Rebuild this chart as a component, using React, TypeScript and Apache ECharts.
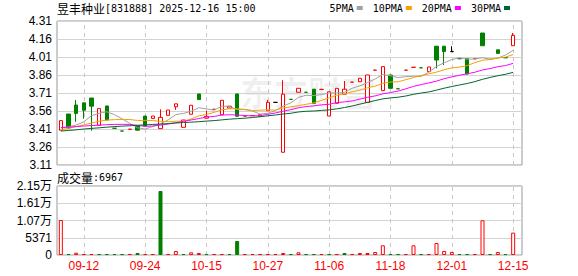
import React, { useEffect, useRef } from 'react';
import * as echarts from 'echarts';

const dates = [
  '09-09', '09-10', '09-11', '09-12', '09-15', '09-16', '09-17', '09-18', '09-19', '09-22',
  '09-23', '09-24', '09-25', '09-26', '09-29', '10-09', '10-10', '10-13', '10-14', '10-15',
  '10-16', '10-17', '10-20', '10-21', '10-22', '10-23', '10-24', '10-27', '10-28', '10-29',
  '10-30', '10-31', '11-03', '11-04', '11-05', '11-06', '11-07', '11-10', '11-11', '11-12',
  '11-13', '11-14', '11-17', '11-18', '11-19', '11-20', '11-21', '11-24', '11-25', '11-26',
  '11-27', '12-01', '12-02', '12-04', '12-05', '12-08', '12-09', '12-11', '12-12', '12-15',
];

const opens = [
  3.40, 3.535, 3.61, 3.628, 3.668, 3.44, 3.602, 3.416, 3.393, 3.408,
  3.435, 3.518, 3.498, 3.413, 3.524, 3.595, 3.424, 3.533, 3.702, 3.50,
  3.574, 3.529, 3.585, 3.702, 3.518, 3.522, 3.516, 3.562, 3.632, 3.216,
  3.657, 3.716, 3.716, 3.742, 3.74, 3.518, 3.624, 3.70, 3.80, 3.804,
  3.632, 3.90, 3.73, 3.86, 3.745, 3.90, 3.924, 3.92, 3.888, 4.10,
  4.10, 4.055, 3.996, 3.996, 3.996, 4.21, 3.99, 4.07, 4.004, 4.104,
];
const closes = [
  3.48, 3.42, 3.54, 3.566, 3.60, 3.58, 3.485, 3.416, 3.393, 3.408,
  3.40, 3.435, 3.518, 3.507, 3.568, 3.62, 3.485, 3.608, 3.655, 3.515,
  3.574, 3.649, 3.60, 3.516, 3.518, 3.522, 3.529, 3.632, 3.632, 3.70,
  3.657, 3.749, 3.716, 3.624, 3.74, 3.72, 3.749, 3.742, 3.80, 3.832,
  3.86, 3.90, 3.93, 3.749, 3.745, 3.90, 3.924, 3.92, 3.927, 3.985,
  4.055, 4.055, 3.996, 3.868, 3.996, 4.104, 3.99, 4.04, 4.004, 4.19,
];
const lows = [
  3.40, 3.41, 3.47, 3.496, 3.396, 3.44, 3.485, 3.416, 3.393, 3.408,
  3.40, 3.435, 3.498, 3.413, 3.524, 3.57, 3.424, 3.533, 3.655, 3.50,
  3.574, 3.529, 3.585, 3.516, 3.518, 3.522, 3.516, 3.562, 3.632, 3.216,
  3.657, 3.716, 3.716, 3.624, 3.74, 3.518, 3.624, 3.70, 3.80, 3.804,
  3.632, 3.90, 3.73, 3.749, 3.745, 3.90, 3.924, 3.92, 3.888, 3.916,
  3.943, 4.055, 3.996, 3.868, 3.996, 4.104, 3.99, 4.04, 4.004, 4.104,
];
const highs = [
  3.48, 3.535, 3.652, 3.628, 3.668, 3.58, 3.602, 3.416, 3.393, 3.408,
  3.435, 3.518, 3.518, 3.574, 3.568, 3.62, 3.485, 3.608, 3.702, 3.563,
  3.574, 3.649, 3.60, 3.702, 3.518, 3.522, 3.529, 3.652, 3.632, 3.816,
  3.657, 3.749, 3.716, 3.742, 3.74, 3.72, 3.749, 3.81, 3.80, 3.832,
  3.86, 3.90, 3.93, 3.86, 3.745, 3.90, 3.924, 3.92, 3.927, 4.10,
  4.10, 4.10, 3.996, 3.996, 3.996, 4.21, 3.99, 4.07, 4.004, 4.21,
];
const volumes = [
  10900, 300, 720, 300, 300, 300, 300, 300, 300, 300,
  620, 300, 300, 19930, 300, 1250, 300, 830, 620, 300,
  300, 300, 300, 4360, 300, 300, 300, 300, 300, 620,
  300, 840, 300, 300, 300, 300, 300, 620, 300, 620,
  620, 930, 3020, 300, 300, 300, 3020, 300, 300, 3740,
  1250, 930, 300, 300, 300, 10800, 300, 930, 300, 6967,
];
const ma5 = [
  3.42, 3.427, 3.443, 3.47, 3.521, 3.541, 3.554, 3.529, 3.495, 3.456,
  3.42, 3.41, 3.431, 3.454, 3.486, 3.53, 3.54, 3.558, 3.587, 3.577,
  3.567, 3.6, 3.599, 3.571, 3.571, 3.56, 3.534, 3.541, 3.564, 3.601,
  3.628, 3.674, 3.691, 3.689, 3.697, 3.71, 3.71, 3.715, 3.75, 3.769,
  3.797, 3.827, 3.864, 3.854, 3.838, 3.846, 3.85, 3.848, 3.884, 3.931,
  3.962, 3.988, 4.004, 3.992, 3.994, 4.004, 3.991, 4.0, 4.027, 4.066,
];
const ma10 = [
  3.405, 3.415, 3.43, 3.445, 3.46, 3.475, 3.484, 3.488, 3.489, 3.489,
  3.481, 3.482, 3.48, 3.474, 3.471, 3.475, 3.475, 3.494, 3.52, 3.531,
  3.549, 3.57, 3.578, 3.579, 3.574, 3.564, 3.567, 3.57, 3.567, 3.586,
  3.594, 3.604, 3.616, 3.627, 3.649, 3.669, 3.692, 3.703, 3.72, 3.733,
  3.753, 3.768, 3.79, 3.802, 3.803, 3.821, 3.839, 3.856, 3.869, 3.884,
  3.904, 3.919, 3.926, 3.938, 3.963, 3.983, 3.99, 4.002, 4.009, 4.03,
];
const ma20 = [
  3.422, 3.426, 3.43, 3.435, 3.438, 3.442, 3.446, 3.448, 3.449, 3.448,
  3.44, 3.432, 3.435, 3.442, 3.452, 3.462, 3.474, 3.485, 3.497, 3.51,
  3.515, 3.526, 3.529, 3.527, 3.522, 3.519, 3.521, 3.532, 3.544, 3.558,
  3.571, 3.587, 3.597, 3.603, 3.611, 3.616, 3.63, 3.636, 3.644, 3.659,
  3.674, 3.686, 3.703, 3.714, 3.726, 3.745, 3.765, 3.78, 3.794, 3.809,
  3.829, 3.844, 3.858, 3.87, 3.883, 3.902, 3.914, 3.929, 3.939, 3.957,
];
const ma30 = [
  3.393, 3.398, 3.403, 3.41, 3.415, 3.42, 3.425, 3.43, 3.434, 3.437,
  3.441, 3.444, 3.448, 3.451, 3.455, 3.46, 3.464, 3.467, 3.471, 3.476,
  3.48, 3.486, 3.492, 3.496, 3.5, 3.506, 3.512, 3.52, 3.527, 3.535,
  3.541, 3.552, 3.558, 3.56, 3.565, 3.569, 3.578, 3.589, 3.602, 3.617,
  3.632, 3.647, 3.661, 3.669, 3.675, 3.685, 3.699, 3.71, 3.719, 3.734,
  3.75, 3.764, 3.777, 3.789, 3.805, 3.824, 3.84, 3.854, 3.866, 3.882,
];
const labelDates = ['09-12', '09-24', '10-15', '10-27', '11-06', '11-18', '12-01', '12-15'];
const maNames = ['5PMA', '10PMA', '20PMA', '30PMA'];
const maColors = ['#a0a0a0', '#f5a100', '#ff00ff', '#00662e'];
const priceMin = 3.11;
const priceMax = 4.31;
const priceStep = 0.15;
const volMax = 21484;
const volStep = 5371;

const UP = '#ff0000';
const DOWN = '#008000';

export default function App() {
  const ref = useRef<HTMLDivElement>(null);
  useEffect(() => {
    const chart = echarts.init(ref.current!, null, { renderer: 'svg' });
    const candleData = opens.map((o, i) => {
      const c = closes[i];
      const v = [o, c, lows[i], highs[i]];
      if (o === c) {
        const prev = i > 0 ? closes[i - 1] : c - 1;
        const col = c > prev ? UP : c < prev ? DOWN : '#000';
        return {
          value: v,
          itemStyle: { color: col, color0: col, borderColor: col, borderColor0: col, borderColorDoji: col },
        };
      }
      return v;
    });
    const volData = volumes.map((v, i) => {
      const up = i === 0 || closes[i] >= closes[i - 1];
      return {
        value: v,
        itemStyle: up
          ? { color: '#fff', borderColor: UP, borderWidth: 1 }
          : { color: DOWN, borderColor: DOWN, borderWidth: 1 },
      };
    });
    const vline = {
      silent: true,
      symbol: ['none', 'none'],
      z: 1,
      label: { show: false },
      emphasis: { disabled: true },
      lineStyle: { color: '#c8c8c8', type: [4, 4], width: 1 },
      data: labelDates.map((d) => ({ xAxis: d })),
    };
    const richTitle = {
      a: { fontFamily: 'Noto Sans CJK SC', fontSize: 12, fontWeight: 'normal', color: '#000' },
      b: { fontFamily: 'DejaVu Sans Mono', fontSize: 10, fontWeight: 'normal', color: '#000' },
    };
    const option: any = {
      animation: false,
      textStyle: { fontFamily: '"Liberation Sans", "Noto Sans CJK SC", sans-serif' },
      title: [
        {
          text: '{a|昱丰种业}{b|[831888] 2025-12-16 15:00}',
          left: 57,
          top: 2,
          padding: 0,
          textStyle: { fontWeight: 'normal', rich: richTitle },
        },
        {
          text: '{a|成交量}{b|:' + volumes[volumes.length - 1] + '}',
          left: 57,
          top: 171,
          padding: 0,
          textStyle: { fontWeight: 'normal', rich: richTitle },
        },
      ],
      legend: {
        data: maNames,
        right: 68,
        top: 3,
        padding: 0,
        itemWidth: 6,
        itemHeight: 4,
        itemGap: 10,
        align: 'right',
        icon: 'rect',
        textStyle: { fontFamily: 'DejaVu Sans Mono', fontSize: 10, color: '#000', padding: [0, -2, 0, 0] },
      },
      graphic: [
        {
          type: 'text',
          left: 240,
          top: 74,
          z: 0,
          silent: true,
          style: {
            text: '东方财富',
            fontFamily: 'Noto Sans CJK SC',
            fontWeight: 'bold',
            fontSize: 34,
            fill: 'rgba(0,0,0,0.06)',
          },
        },
      ],
      grid: [
        { left: 57, top: 21, width: 465, height: 144, show: true, borderColor: '#999', borderWidth: 1 },
        { left: 57, top: 21, width: 460, height: 144 },
        { left: 57, top: 186, width: 465, height: 69, show: true, borderColor: '#999', borderWidth: 1 },
        { left: 57, top: 186, width: 460, height: 69 },
      ],
      xAxis: [
        { type: 'value', gridIndex: 0, min: 0, max: 1, show: false },
        { type: 'category', gridIndex: 1, data: dates, show: false },
        { type: 'value', gridIndex: 2, min: 0, max: 1, show: false },
        {
          type: 'category',
          gridIndex: 3,
          data: dates,
          axisLine: { show: false },
          axisTick: { show: false },
          splitLine: { show: false },
          axisLabel: {
            interval: (i: number) => i % 8 === 3,
            color: '#ff0000',
            fontSize: 12,
            margin: 5,
          },
        },
      ],
      yAxis: [
        {
          type: 'value',
          gridIndex: 0,
          min: priceMin,
          max: priceMax,
          interval: priceStep,
          axisLine: { show: false },
          axisTick: { show: false },
          axisLabel: { formatter: (v: number) => v.toFixed(2), color: '#000', fontSize: 12, margin: 5 },
          splitLine: { lineStyle: { color: '#d3d3d3', width: 1 } },
        },
        { type: 'value', gridIndex: 1, min: priceMin, max: priceMax, show: false },
        {
          type: 'value',
          gridIndex: 2,
          min: 0,
          max: volMax,
          interval: volStep,
          axisLine: { show: false },
          axisTick: { show: false },
          axisLabel: {
            formatter: (v: number) => (v >= 10000 ? (v / 10000).toFixed(2) + '万' : String(Math.round(v))),
            color: '#000',
            fontSize: 12,
            margin: 5,
          },
          splitLine: { lineStyle: { color: '#d3d3d3', width: 1 } },
        },
        { type: 'value', gridIndex: 3, min: 0, max: volMax, show: false },
      ],
      series: [
        {
          type: 'candlestick',
          name: 'K',
          xAxisIndex: 1,
          yAxisIndex: 1,
          data: candleData,
          barWidth: 4,
          z: 2,
          itemStyle: {
            color: '#fff',
            color0: DOWN,
            borderColor: UP,
            borderColor0: DOWN,
            borderWidth: 1,
          },
          markLine: vline,
        },
        ...[ma5, ma10, ma20, ma30].map((d, k) => ({
          type: 'line',
          name: maNames[k],
          xAxisIndex: 1,
          yAxisIndex: 1,
          data: d,
          symbol: 'none',
          showSymbol: false,
          color: maColors[k],
          lineStyle: { color: maColors[k], width: 1 },
          z: 3,
        })),
        {
          type: 'bar',
          name: 'VOL',
          xAxisIndex: 3,
          yAxisIndex: 3,
          data: volData,
          barWidth: 4,
          z: 2,
          markLine: vline,
        },
      ],
    };
    chart.setOption(option);
    return () => chart.dispose();
  }, []);
  return <div ref={ref} style={{ position: 'absolute', left: 0, top: 0, width: 578, height: 276 }} />;
}
